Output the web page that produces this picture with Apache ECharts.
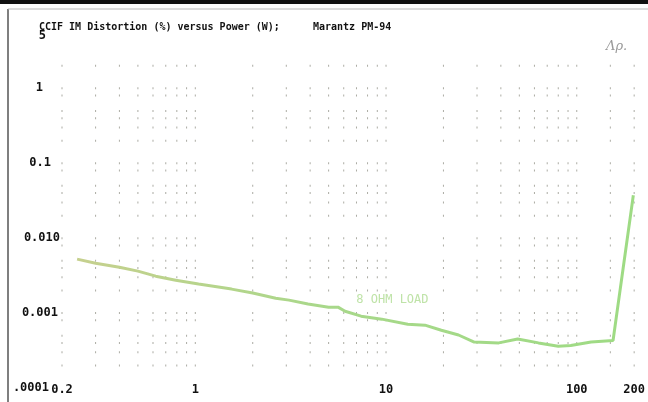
<!DOCTYPE html>
<html>
<head>
<meta charset="utf-8">
<script src="https://cdn.jsdelivr.net/npm/echarts@6/dist/echarts.min.js"></script>
<style>
  html, body { margin: 0; padding: 0; background: #ffffff; }
  #chart { width: 648px; height: 402px; }
</style>
</head>
<body>
<div id="chart"></div>
<script>
// CCIF IM distortion (%) against output power (W), 8-ohm load
const powerW = [0.24, 0.3, 0.4, 0.5, 0.62, 0.79, 1.04, 1.55, 2, 2.64, 3.1, 3.9, 5, 5.6, 6.1, 7.4, 9.5, 13, 16, 19.5, 24, 29, 39, 49, 63, 80, 93, 119, 155, 198];
const distortionPct = [0.00525, 0.00464, 0.0041, 0.00363, 0.00311, 0.00275, 0.00244, 0.00209, 0.00185, 0.00158, 0.00149, 0.00132, 0.0012, 0.0012, 0.00106, 0.00091, 0.00083, 0.00071, 0.00069, 0.00059, 0.00051, 0.00041, 0.0004, 0.00045, 0.0004, 0.00036, 0.00037, 0.00041, 0.00043, 0.0374];

const xTickValues = [0.2, 1, 10, 100, 200];
const xTickLabels = ['0.2', '1', '10', '100', '200'];
const yTickValues = [0.0001, 0.001, 0.01, 0.1, 1, 5];
const yTickLabels = ['.0001', '0.001', '0.010', '0.1', '1', '5'];

// dotted log grid (printer-style dots at grid crossings)
const gridPower = [0.2, 0.3, 0.4, 0.5, 0.6, 0.7, 0.8, 0.9, 1, 2, 3, 4, 5, 6, 7, 8, 9, 10, 20, 30, 40, 50, 60, 70, 80, 90, 100, 150, 200];
const gridDist = [0.0002, 0.0003, 0.0004, 0.0005, 0.0008, 0.001, 0.002, 0.003, 0.004, 0.005, 0.008, 0.01, 0.02, 0.03, 0.04, 0.05, 0.08, 0.1, 0.2, 0.3, 0.4, 0.5, 0.8, 1, 2];

const curve = powerW.map((p, i) => [p, distortionPct[i]]);
const dots = [];
gridPower.forEach(p => gridDist.forEach(d => dots.push([p, d])));

function findLabel(values, v) {
  for (let i = 0; i < values.length; i++) {
    if (Math.abs(Math.log10(v) - Math.log10(values[i])) < 0.005) return i;
  }
  return -1;
}

const mono = '"DejaVu Sans Mono", "Liberation Mono", monospace';
const yPad = [11, 2, 0, 9, 17, 14];
const yRich = {};
yTickLabels.forEach((t, i) => {
  yRich['p' + i] = { fontFamily: mono, fontSize: 12, fontWeight: 'bold', color: '#111', padding: [0, yPad[i], 0, 0] };
});

const chart = echarts.init(document.getElementById('chart'), null, { renderer: 'canvas' });
chart.setOption({
  backgroundColor: '#ffffff',
  animation: false,
  title: [
    { text: 'CCIF IM Distortion (%) versus Power (W);', left: 34, top: 17,
      textStyle: { fontFamily: mono, fontSize: 10, fontWeight: 'bold', color: '#111' } },
    { text: 'Marantz PM-94', left: 308, top: 17,
      textStyle: { fontFamily: mono, fontSize: 10, fontWeight: 'bold', color: '#111' } }
  ],
  grid: { left: 62, right: 12, top: 36, bottom: 14, containLabel: false },
  xAxis: {
    type: 'log', logBase: 10, min: 0.2, max: 200,
    axisLine: { show: false }, axisTick: { show: false },
    splitLine: { show: false }, minorTick: { show: false },
    axisLabel: {
      customValues: xTickValues,
      margin: 2, verticalAlign: 'middle',
      fontFamily: mono, fontSize: 12, fontWeight: 'bold', color: '#111',
      formatter: v => { const i = findLabel(xTickValues, v); return i < 0 ? '' : xTickLabels[i]; }
    }
  },
  yAxis: {
    type: 'log', logBase: 10, min: 0.0001, max: 5,
    axisLine: { show: false }, axisTick: { show: false },
    splitLine: { show: false },
    axisLabel: {
      customValues: yTickValues,
      margin: 2, align: 'right',
      fontFamily: mono, fontSize: 12, fontWeight: 'bold', color: '#111',
      rich: yRich,
      formatter: v => { const i = findLabel(yTickValues, v); return i < 0 ? '' : '{p' + i + '|' + yTickLabels[i] + '}'; }
    }
  },
  series: [
    {
      type: 'scatter', silent: true, z: 1,
      data: dots, symbol: 'rect', symbolSize: [1, 2],
      itemStyle: { color: '#8f8f84', opacity: 0.75 }
    },
    {
      type: 'line', z: 3, data: curve, showSymbol: false, smooth: false,
      lineStyle: {
        width: 3,
        color: new echarts.graphic.LinearGradient(0, 0, 1, 0, [
          { offset: 0, color: '#c6d08e' },
          { offset: 0.45, color: '#a8d88a' },
          { offset: 1, color: '#9edb84' }
        ])
      },
      markPoint: {
        silent: true, symbol: 'circle', symbolSize: 0,
        data: [{ coord: [10.8, 0.00149], value: '8 OHM LOAD' }],
        label: { show: true, position: 'inside', formatter: '8 OHM LOAD',
          fontFamily: mono, fontSize: 12, color: '#bfe3a8' }
      }
    }
  ],
  graphic: [
    { type: 'rect', shape: { x: 0, y: 0, width: 648, height: 4 }, style: { fill: '#111' }, silent: true },
    { type: 'line', shape: { x1: 8, y1: 9, x2: 8, y2: 402 }, style: { stroke: '#555', lineWidth: 1.5 }, silent: true },
    { type: 'line', shape: { x1: 8, y1: 9, x2: 648, y2: 9 }, style: { stroke: '#bbb', lineWidth: 1 }, silent: true },
    { type: 'text', left: 606, top: 40, style: { text: 'Λρ.', fontFamily: 'DejaVu Serif', fontStyle: 'italic', fontSize: 13, fill: '#9a9a9a' }, silent: true }
  ]
});
</script>
</body>
</html>
